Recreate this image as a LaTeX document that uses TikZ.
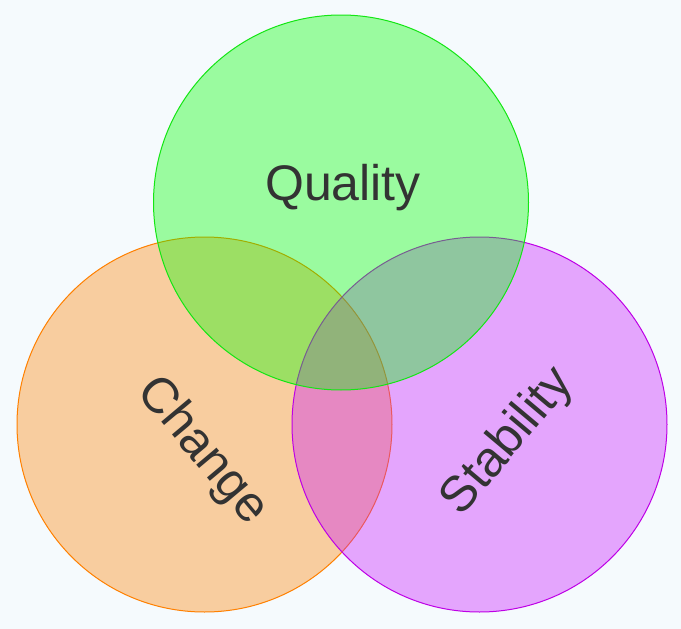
\documentclass[tikz,border=0pt]{standalone}
\usepackage{fontspec}
\newfontfamily\labelfont{Liberation Sans}
\usepackage{tikz}
\usetikzlibrary{positioning}

\definecolor{bgcol}{RGB}{245,250,253}
\definecolor{qualityline}{RGB}{20,230,20}
\definecolor{qualityfill}{RGB}{0,255,0}
\definecolor{changeline}{RGB}{255,128,0}
\definecolor{changefill}{RGB}{255,128,0}
\definecolor{stabline}{RGB}{190,0,230}
\definecolor{stabfill}{RGB}{200,20,255}
\definecolor{labeltext}{RGB}{51,51,51}

\tikzset{
  setcircle/.style={circle, minimum size=375pt, inner sep=0pt, outer sep=0pt, line width=1pt, fill opacity=0.37},
  setlabel/.style={text=labeltext, font=\labelfont\fontsize{50}{60}\selectfont, inner sep=0pt}
}

\begin{document}
\begin{tikzpicture}[x=1pt, y=-1pt]
% 背景
\fill[bgcol] (0,0) rectangle (681,629);
\useasboundingbox (0,0) rectangle (681,629);

% 円
\node[setcircle, draw=changeline, fill=changefill] (change) at (204.5,424.5) {};
\node[setcircle, draw=stabline, fill=stabfill] (stability) at (479.5,424.5) {};
\node[setcircle, draw=qualityline, fill=qualityfill] (quality) at (341,202.5) {};

% ラベル
\node[setlabel] (qualitylabel) at (343,188) {Quality};
\node[setlabel, rotate=-50] (changelabel) at (202,451) {Change};
\node[setlabel, rotate=50] (stabilitylabel) at (508,442) {Stability};
\end{tikzpicture}
\end{document}
